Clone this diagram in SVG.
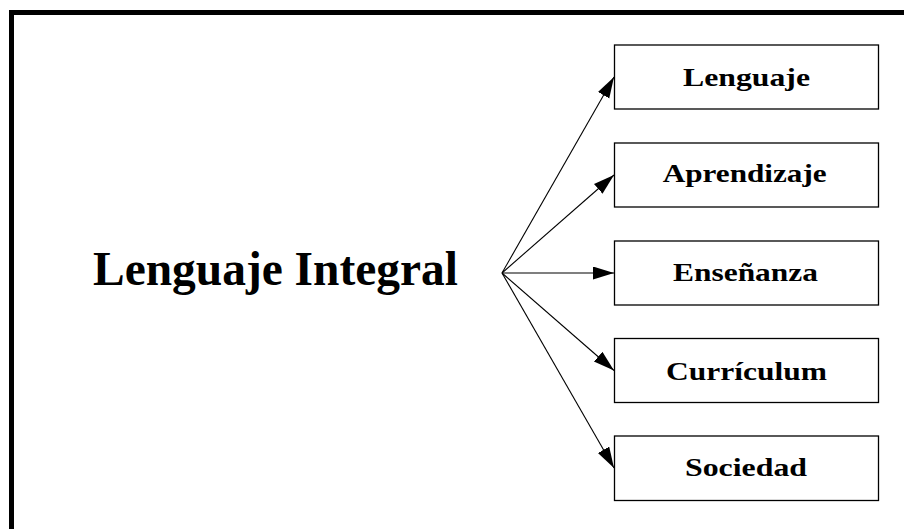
<svg xmlns="http://www.w3.org/2000/svg" width="904" height="529" viewBox="0 0 904 529">
  <style>
    .frame { fill: none; stroke: #000; stroke-width: 5; }
    .box { fill: #fff; stroke: #000; stroke-width: 1.3; }
    .label { font-family: "Liberation Serif", "Times New Roman", serif; font-weight: bold; font-size: 26px; fill: #000; text-anchor: middle; }
    .title { font-family: "Liberation Serif", "Times New Roman", serif; font-weight: bold; font-size: 48px; fill: #000; text-anchor: middle; }
    .edge { stroke: #000; stroke-width: 1.1; fill: none; marker-end: url(#arrow); }
  </style>
  <defs>
    <marker id="arrow" markerUnits="userSpaceOnUse" markerWidth="22" markerHeight="14" refX="21" refY="6.5" orient="auto">
      <path d="M0,0 L21,6.5 L0,13 Z" fill="#000"/>
    </marker>
  </defs>

  <rect width="904" height="529" fill="#fff"/>

  <!-- open frame: top and left edges only -->
  <path class="frame" d="M11.5,529 L11.5,12.5 L904,12.5"/>

  <g id="root">
    <text class="title" x="275.5" y="285" textLength="365" lengthAdjust="spacingAndGlyphs">Lenguaje Integral</text>
  </g>

  <g id="connectors">
    <line class="edge" x1="502" y1="273" x2="614" y2="77"/>
    <line class="edge" x1="502" y1="273" x2="614" y2="175"/>
    <line class="edge" x1="502" y1="273" x2="614" y2="273"/>
    <line class="edge" x1="502" y1="273" x2="614" y2="370.5"/>
    <line class="edge" x1="502" y1="273" x2="614" y2="468"/>
  </g>

  <g id="lenguaje">
    <rect class="box" x="614.5" y="45" width="264" height="64"/>
    <text class="label" x="746.5" y="86" textLength="127" lengthAdjust="spacingAndGlyphs">Lenguaje</text>
  </g>
  <g id="aprendizaje">
    <rect class="box" x="614.5" y="143" width="264" height="64"/>
    <text class="label" x="744.7" y="182" textLength="164" lengthAdjust="spacingAndGlyphs">Aprendizaje</text>
  </g>
  <g id="ensenanza">
    <rect class="box" x="614.5" y="241" width="264" height="64"/>
    <text class="label" x="745.5" y="281" textLength="145" lengthAdjust="spacingAndGlyphs">Enseñanza</text>
  </g>
  <g id="curriculum">
    <rect class="box" x="614.5" y="338.5" width="264" height="64"/>
    <text class="label" x="746.5" y="379.5" textLength="161" lengthAdjust="spacingAndGlyphs">Currículum</text>
  </g>
  <g id="sociedad">
    <rect class="box" x="614.5" y="436" width="264" height="64.5"/>
    <text class="label" x="746" y="475.5" textLength="122" lengthAdjust="spacingAndGlyphs">Sociedad</text>
  </g>
</svg>
